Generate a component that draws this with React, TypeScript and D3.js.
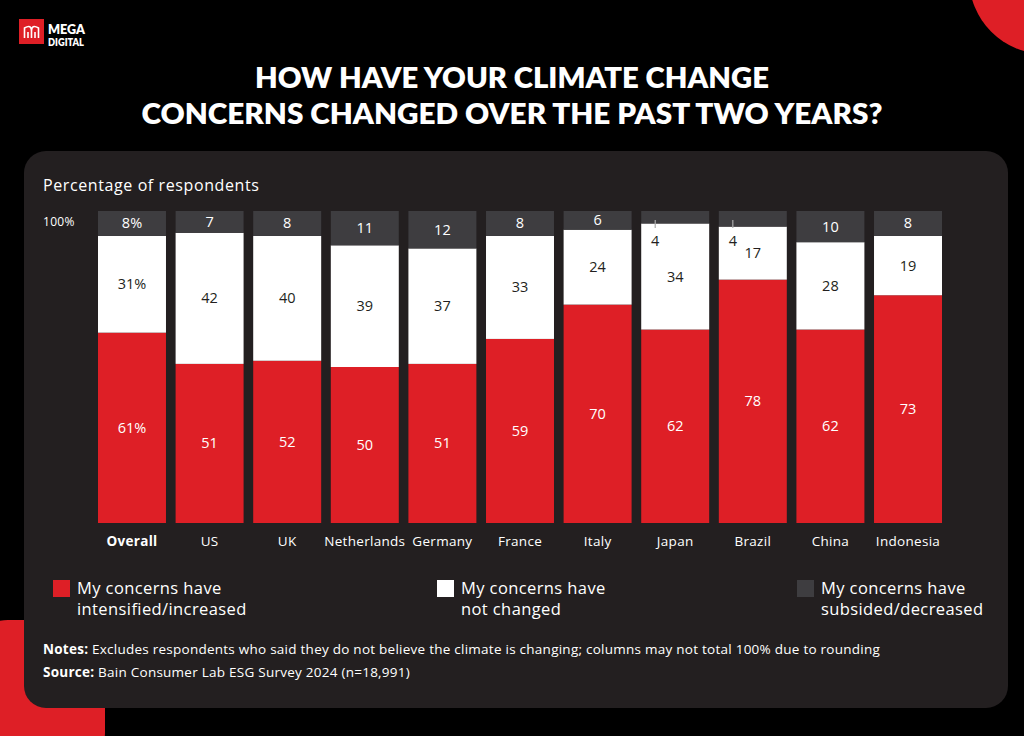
import React from "react";
import * as d3 from "d3";

const categories = ["Overall", "US", "UK", "Netherlands", "Germany", "France", "Italy", "Japan", "Brazil", "China", "Indonesia"];
const increased = [61, 51, 52, 50, 51, 59, 70, 62, 78, 62, 73];
const unchanged = [31, 42, 40, 39, 37, 33, 24, 34, 17, 28, 19];
const decreased = [8, 7, 8, 11, 12, 8, 6, 4, 4, 10, 8];
const seriesNames = ["My concerns have|intensified/increased", "My concerns have|not changed", "My concerns have|subsided/decreased"];
const yTickLabel = "100%";

const RED = "#de1f26";
const WHITE = "#ffffff";
const GRAY = "#3e3d40";
const PANEL = "#231f20";
const TFONT = "Lato, 'Open Sans', sans-serif";
const FONT = "'Open Sans', Lato, sans-serif";

export default function App() {
  const W = 1024, H = 736;
  const x = d3.scaleBand<string>().domain(categories).range([98, 942]).paddingInner(0.124).paddingOuter(0);
  const y = d3.scaleLinear().domain([0, 100]).range([523, 211]);
  const bw = x.bandwidth();

  const legendX = [53, 437, 797];
  const legendColors = [RED, WHITE, GRAY];

  return (
    <svg width={W} height={H} style={{ position: "absolute", left: 0, top: 0, display: "block" }}>
      <rect x={0} y={0} width={W} height={H} fill="#000" />
      <circle cx={1045} cy={-22} r={76} fill={RED} />
      <rect x={-40} y={620} width={145} height={160} rx={48} fill={RED} />
      {/* logo */}
      <rect x={19} y={19} width={25} height={25} fill={RED} />
      <text x={48} y={33.5} fill="#fff" fontFamily={TFONT} fontWeight={800} fontSize={13} textLength={37} lengthAdjust="spacingAndGlyphs">MEGA</text>
      <text x={48} y={45.5} fill="#fff" fontFamily={TFONT} fontWeight={800} fontSize={11} textLength={36} lengthAdjust="spacingAndGlyphs">DIGITAL</text>
      <path d="M24.5,38 L24.5,28 Q31.5,24 31.5,31 L31.5,38 M31.5,31 Q31.5,24 38.5,28 L38.5,38 M28,38 L28,32 M35,38 L35,32" stroke="#fff" strokeWidth={1.6} fill="none" />
      {/* title */}
      <text x={512} y={88} textAnchor="middle" fill="#fff" fontFamily={TFONT} fontWeight={800} fontSize={28} textLength={514} lengthAdjust="spacingAndGlyphs">HOW HAVE YOUR CLIMATE CHANGE</text>
      <text x={512} y={124} textAnchor="middle" fill="#fff" fontFamily={TFONT} fontWeight={800} fontSize={28} textLength={741} lengthAdjust="spacingAndGlyphs">CONCERNS CHANGED OVER THE PAST TWO YEARS?</text>
      {/* panel */}
      <rect x={24} y={151} width={984} height={557} rx={22} fill={PANEL} />
      <text x={43} y={191} fill="#fff" fontFamily={FONT} fontSize={16} letterSpacing={0.6}>Percentage of respondents</text>
      <text x={43} y={226} fill="#fff" fontFamily={FONT} fontSize={12} letterSpacing={0.3}>{yTickLabel}</text>
      {categories.map((c, i) => {
        const bx = x(c)!;
        const r0 = 0, r1 = increased[i];
        const w0 = r1, w1 = r1 + unchanged[i];
        const g0 = w1, g1 = 100;
        const small = decreased[i] < 5;
        const cx = bx + bw / 2;
        const isFirst = i === 0;
        const fmt = (v: number) => (isFirst ? `${v}%` : `${v}`);
        return (
          <g key={c}>
            <rect x={bx} y={y(r1)} width={bw} height={y(r0) - y(r1)} fill={RED} />
            <rect x={bx} y={y(w1)} width={bw} height={y(w0) - y(w1)} fill={WHITE} />
            <rect x={bx} y={y(g1)} width={bw} height={y(g0) - y(g1)} fill={GRAY} />
            <text x={cx} y={(y(r0) + y(r1)) / 2 + 5} textAnchor="middle" fill="#fff" fontFamily={FONT} fontSize={14.5}>{fmt(increased[i])}</text>
            <text x={cx} y={(y(w0) + y(w1)) / 2 + 5} textAnchor="middle" fill="#231f20" fontFamily={FONT} fontSize={14.5}>{fmt(unchanged[i])}</text>
            {small ? (
              <g>
                <line x1={bx + 14} x2={bx + 14} y1={y(100) + 9} y2={y(100) + 17} stroke="#aaa" strokeWidth={1.2} />
                <text x={bx + 14} y={y(100) + 35} textAnchor="middle" fill="#231f20" fontFamily={FONT} fontSize={14.5}>{fmt(decreased[i])}</text>
              </g>
            ) : (
              <text x={cx} y={(y(g0) + y(g1)) / 2 + 5} textAnchor="middle" fill="#fff" fontFamily={FONT} fontSize={14.5}>{fmt(decreased[i])}</text>
            )}
            <text x={cx} y={546} textAnchor="middle" fill="#fff" fontFamily={FONT} fontSize={13.5} letterSpacing={0.3} fontWeight={isFirst ? 700 : 400}>{c}</text>
          </g>
        );
      })}
      {/* legend */}
      {seriesNames.map((s, i) => {
        const [l1, l2] = s.split("|");
        return (
          <g key={s}>
            <rect x={legendX[i]} y={580} width={17} height={17} fill={legendColors[i]} />
            <text x={legendX[i] + 24} y={594} fill="#fff" fontFamily={FONT} fontSize={16.5} letterSpacing={0.4}>{l1}</text>
            <text x={legendX[i] + 24} y={615} fill="#fff" fontFamily={FONT} fontSize={16.5} letterSpacing={0.4}>{l2}</text>
          </g>
        );
      })}
      <text x={43} y={654} fill="#fff" fontFamily={FONT} fontSize={13.5} letterSpacing={0.25}>
        <tspan fontWeight={700}>Notes:</tspan> Excludes respondents who said they do not believe the climate is changing; columns may not total 100% due to rounding
      </text>
      <text x={43} y={677} fill="#fff" fontFamily={FONT} fontSize={13.5} letterSpacing={0.25}>
        <tspan fontWeight={700}>Source:</tspan> Bain Consumer Lab ESG Survey 2024 (n=18,991)
      </text>
    </svg>
  );
}
